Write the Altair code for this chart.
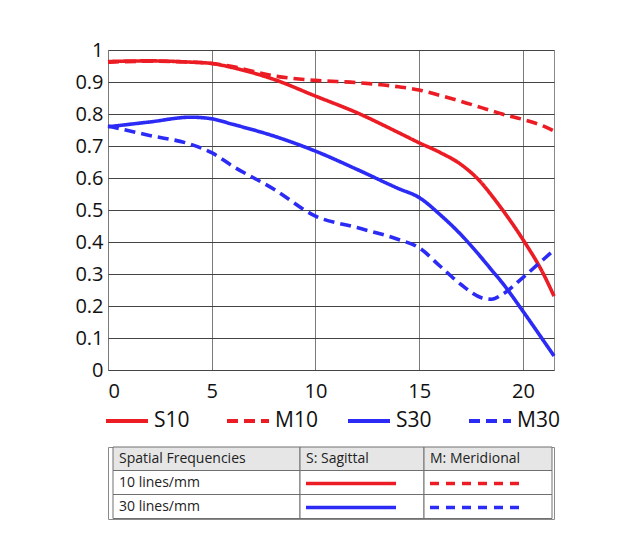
import altair as alt
import pandas as pd

# ---- data ----
x_pos = [0, 2, 4, 5, 6, 8, 10, 12, 14, 15, 16, 17, 18, 18.5, 19, 20, 21, 21.5]
s10 = [0.964, 0.966, 0.962, 0.958, 0.945, 0.908, 0.856, 0.804, 0.742, 0.710, 0.680, 0.643, 0.585, 0.545, 0.502, 0.408, 0.299, 0.231]
m10 = [0.962, 0.965, 0.962, 0.958, 0.948, 0.919, 0.905, 0.898, 0.885, 0.875, 0.858, 0.840, 0.820, 0.810, 0.800, 0.783, 0.762, 0.747]
s30 = [0.760, 0.775, 0.790, 0.785, 0.768, 0.731, 0.684, 0.627, 0.567, 0.539, 0.486, 0.424, 0.351, 0.312, 0.273, 0.184, 0.091, 0.044]
m30 = [0.7625, 0.733, 0.705, 0.679, 0.6375, 0.565, 0.481, 0.445, 0.408, 0.382, 0.325, 0.268, 0.226, 0.221, 0.236, 0.289, 0.346, 0.375]

series_names = ["S10", "M10", "S30", "M30"]
series_colors = ["#ec1c24", "#ec1c24", "#2b2bf5", "#2b2bf5"]
series_dash = [[1, 0], [11, 6], [1, 0], [11, 6]]

x_ticks = [0, 5, 10, 15, 20]
y_ticks = [0, 0.1, 0.2, 0.3, 0.4, 0.5, 0.6, 0.7, 0.8, 0.9, 1]

table_header = ["Spatial Frequencies", "S: Sagittal", "M: Meridional"]
table_rows = ["10 lines/mm", "30 lines/mm"]
table_samples = [["S10", "M10"], ["S30", "M30"]]

# ---- layout constants ----
PW, PH = 446, 320
TW, TH = 446, 72
COL_EDGES = [5, 192, 316, 444]
ROW_EDGES = [0, 23.5, 47.5, 71.5]
FONT = "Open Sans"

recs = []
for name, vals in zip(series_names, [s10, m10, s30, m30]):
    for xv, yv in zip(x_pos, vals):
        recs.append({"x": xv, "y": yv, "series": name})
df = pd.DataFrame(recs)

color_scale = alt.Scale(domain=series_names, range=series_colors)
dash_scale = alt.Scale(domain=series_names, range=series_dash)

main = alt.Chart(df).mark_line(strokeWidth=3.6, interpolate="monotone").encode(
    x=alt.X("x:Q", scale=alt.Scale(domain=[0, 21.5], nice=False, zero=False),
            axis=alt.Axis(values=x_ticks, title=None, grid=True, gridColor="#7a7a7a",
                          ticks=False, domain=False, labelPadding=11,
                          labelFontSize=20, labelFont=FONT, labelColor="#111")),
    y=alt.Y("y:Q", scale=alt.Scale(domain=[0, 1], nice=False),
            axis=alt.Axis(values=y_ticks, format="~g", title=None, grid=True, gridColor="#444",
                          ticks=False, domain=False, labelPadding=5,
                          labelFontSize=20, labelFont=FONT, labelColor="#111")),
    color=alt.Color("series:N", scale=color_scale,
                    legend=alt.Legend(orient="none", legendX=-4, legendY=348, direction="horizontal",
                                      title=None, symbolType="stroke", symbolSize=1764,
                                      symbolStrokeWidth=4, labelFontSize=21, labelFont=FONT,
                                      labelColor="#111", labelOffset=4, columnPadding=22,
                                      gridAlign="all")),
    strokeDash=alt.StrokeDash("series:N", scale=dash_scale, legend=None),
).properties(width=PW, height=PH)

# ---- table ----
cells = []
for r in range(3):
    for c in range(3):
        cells.append({"x1": COL_EDGES[c], "x2": COL_EDGES[c + 1],
                      "y1": ROW_EDGES[r], "y2": ROW_EDGES[r + 1],
                      "fill": "#e6e6e6" if r == 0 else "#ffffff"})
cells_df = pd.DataFrame(cells)

texts = []
for c, t in enumerate(table_header):
    texts.append({"tx": COL_EDGES[c] + 6, "ty": (ROW_EDGES[0] + ROW_EDGES[1]) / 2, "label": t})
for r, t in enumerate(table_rows):
    texts.append({"tx": COL_EDGES[0] + 6, "ty": (ROW_EDGES[r + 1] + ROW_EDGES[r + 2]) / 2, "label": t})
texts_df = pd.DataFrame(texts)

samples = []
for r, row in enumerate(table_samples):
    for c, name in enumerate(row):
        samples.append({"sx1": COL_EDGES[c + 1] + 6, "sx2": COL_EDGES[c + 1] + 96,
                        "sy": (ROW_EDGES[r + 1] + ROW_EDGES[r + 2]) / 2 + 1, "series": name})
samples_df = pd.DataFrame(samples)

tx_scale = alt.Scale(domain=[0, TW], nice=False, zero=False)
ty_scale = alt.Scale(domain=[0, TH], nice=False, zero=False, reverse=True)

cell_layer = alt.Chart(cells_df).mark_rect(stroke="#707070", strokeWidth=1).encode(
    x=alt.X("x1:Q", scale=tx_scale, axis=None), x2="x2:Q",
    y=alt.Y("y1:Q", scale=ty_scale, axis=None), y2="y2:Q",
    fill=alt.Fill("fill:N", scale=None),
)
text_layer = alt.Chart(texts_df).mark_text(align="left", baseline="middle", fontSize=14,
                                            font=FONT, color="#222").encode(
    x=alt.X("tx:Q", scale=tx_scale, axis=None),
    y=alt.Y("ty:Q", scale=ty_scale, axis=None),
    text="label:N",
)
sample_layer = alt.Chart(samples_df).mark_rule(strokeWidth=3.5).encode(
    x=alt.X("sx1:Q", scale=tx_scale, axis=None), x2="sx2:Q",
    y=alt.Y("sy:Q", scale=ty_scale, axis=None),
    color=alt.Color("series:N", scale=color_scale, legend=None),
    strokeDash=alt.StrokeDash("series:N", scale=alt.Scale(domain=series_names,
                                                          range=[[1, 0], [9, 7], [1, 0], [9, 7]]),
                              legend=None),
)
table = alt.layer(cell_layer, text_layer, sample_layer).properties(width=TW, height=TH).resolve_scale(
    color="independent", strokeDash="independent")

chart = alt.vconcat(main, table, spacing=14).resolve_scale(
    color="independent", strokeDash="independent"
).properties(
    padding={"left": 66, "top": 31, "right": 5, "bottom": 5}
).configure_view(stroke="#8a8a8a", strokeWidth=1).configure_concat(spacing=14)

chart.save("out.html", embed_options={"renderer": "svg", "actions": False})
